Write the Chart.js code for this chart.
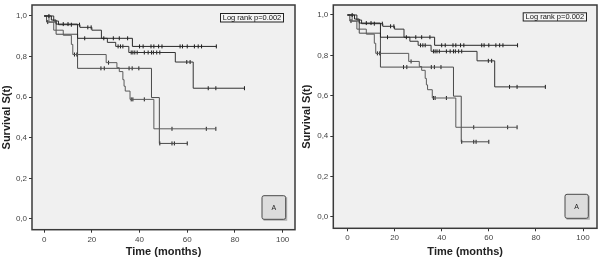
<!DOCTYPE html>
<html>
<head>
<meta charset="utf-8">
<script src="https://cdn.jsdelivr.net/npm/chart.js@4.4.1/dist/chart.umd.min.js"></script>
<style>
  body { margin: 0; background: #fff; }
  canvas { position: absolute; top: 0; }
  #leftChart { left: 0; }
  #rightChart { left: 300px; }
</style>
</head>
<body>
<canvas id="leftChart" width="300" height="259"></canvas>
<canvas id="rightChart" width="302" height="259"></canvas>
<script>
// Tick labels
var xTicks = [0, 20, 40, 60, 80, 100];
var yTicks = [0, 0.2, 0.4, 0.6, 0.8, 1.0];

// Group 1 (flat top curve) - event times and survival after each step
var g1Times = [0, 3, 5, 14, 37, 72.2];
var g1Surv  = [1, 0.98, 0.96, 0.89, 0.85, 0.85];
var g1Cens  = [8, 10, 17, 25, 29, 31.5, 35, 40, 41.5, 44.8, 46, 48, 49.4, 57, 58, 60, 63, 64.6, 66, 72.2];

// Group 2 (ends at 0.64)
var g2Times = [0, 4, 6, 15, 20, 24, 26.5, 30, 35.5, 55, 62.5, 84];
var g2Surv  = [1, 0.975, 0.957, 0.944, 0.93, 0.89, 0.87, 0.85, 0.82, 0.773, 0.644, 0.644];
var g2Cens  = [2, 11.4, 14.8, 18.3, 19.7, 31, 32, 33, 36.5, 37.2, 38, 39, 42, 43.6, 45, 45.8, 47.2, 48.5, 59.8, 61.2, 68.8, 72, 84];

// Group 3 (ends at 0.44)
var g3Times = [0, 2, 4, 8, 11.4, 12, 26, 30.5, 31.5, 33, 33.5, 34, 36, 46, 72];
var g3Surv  = [1, 0.97, 0.93, 0.905, 0.86, 0.81, 0.77, 0.745, 0.726, 0.686, 0.654, 0.63, 0.589, 0.444, 0.444];
var g3Cens  = [12.7, 13.7, 27, 36.5, 37.2, 42, 53.6, 68, 72];

// Group 4 (ends at 0.37)
var g4Times = [0, 1, 5, 14, 45, 48.3, 60];
var g4Surv  = [1, 0.97, 0.91, 0.742, 0.598, 0.372, 0.372];
var g4Cens  = [1.5, 23.8, 25.2, 35.6, 36.9, 39.7, 48.5, 53.6, 54.6, 60];

var xTitle = 'Time (months)';
var yTitle = 'Survival S(t)';
var logRankText = 'Log rank p=0.002';
var panelLabel = 'A';

// Panel geometry (pixels inside each canvas)
var panels = [
  { id: 'leftChart', w: 300, L: 32, R: 297.5, T: 0.5, B: 229.7, x0: 44.3, x100: 285, y0: 218.7, y1: 11.7,
    logBox: [220, 13, 63, 8.5], aBox: [262, 195.7, 23.7, 23.6] },
  { id: 'rightChart', w: 302, L: 33.3, R: 301.5, T: 0.5, B: 228.3, x0: 47.7, x100: 287.3, y0: 216.7, y1: 10.7,
    logBox: [222.7, 12.3, 63.3, 8.2], aBox: [265, 194.3, 23.3, 24] }
];

function toPoints(times, surv) {
  return times.map(function (t, i) { return { x: t, y: surv[i] }; });
}
function survAt(times, surv, t) {
  var s = surv[0];
  for (var i = 0; i < times.length; i++) { if (times[i] <= t) s = surv[i]; }
  return s;
}
function censPoints(times, surv, cens) {
  return cens.map(function (t) { return { x: t, y: survAt(times, surv, t) }; });
}

var groups = [
  { t: g1Times, s: g1Surv, c: g1Cens, color: '#262626' },
  { t: g2Times, s: g2Surv, c: g2Cens, color: '#333333' },
  { t: g3Times, s: g3Surv, c: g3Cens, color: '#5a5a5a' },
  { t: g4Times, s: g4Surv, c: g4Cens, color: '#4a4a4a' }
];

function buildDatasets() {
  var ds = [];
  groups.forEach(function (g) {
    ds.push({
      data: toPoints(g.t, g.s),
      borderColor: g.color,
      borderWidth: 1,
      stepped: true,
      pointRadius: 0,
      fill: false
    });
    ds.push({
      data: censPoints(g.t, g.s, g.c),
      showLine: false,
      pointStyle: 'line',
      pointRotation: 90,
      pointRadius: 2,
      pointBorderWidth: 1,
      pointBorderColor: '#1a1a1a',
      pointBackgroundColor: '#1a1a1a'
    });
  });
  return ds;
}

var framePlugin = {
  id: 'frame',
  beforeDraw: function (chart) {
    var a = chart.chartArea, c = chart.ctx;
    c.save();
    c.fillStyle = '#f0f0f0';
    c.fillRect(a.left, a.top, a.right - a.left, a.bottom - a.top);
    c.restore();
  },
  afterDraw: function (chart) {
    var a = chart.chartArea, c = chart.ctx, p = chart.options.plugins.frame.panel;
    c.save();
    c.strokeStyle = '#3a3a3a';
    c.lineWidth = 1.5;
    c.strokeRect(a.left, a.top, a.right - a.left, a.bottom - a.top);

    // log rank box
    var b = p.logBox;
    c.fillStyle = '#f6f6f6';
    c.fillRect(b[0], b[1], b[2], b[3]);
    c.strokeStyle = '#222';
    c.lineWidth = 1;
    c.strokeRect(b[0] + 0.5, b[1] + 0.5, b[2], b[3]);
    c.fillStyle = '#111';
    c.font = '7.5px "Liberation Sans"';
    c.textAlign = 'center';
    c.textBaseline = 'middle';
    c.fillText(logRankText, b[0] + b[2] / 2 + 0.5, b[1] + b[3] / 2 + 1);

    // panel label box
    var q = p.aBox;
    c.fillStyle = 'rgba(0,0,0,0.25)';
    c.fillRect(q[0] + 1.5, q[1] + 1.5, q[2], q[3]);
    c.fillStyle = '#dcdcdc';
    c.strokeStyle = '#4a4a4a';
    c.beginPath();
    c.roundRect(q[0], q[1], q[2], q[3], 2);
    c.fill();
    c.stroke();
    c.fillStyle = '#222';
    c.font = '7px "Liberation Sans"';
    c.fillText(panelLabel, q[0] + q[2] / 2, q[1] + q[3] / 2 + 0.5);
    c.restore();
  }
};

panels.forEach(function (p) {
  var kx = (p.x100 - p.x0) / 100;
  var ky = p.y0 - p.y1;
  var ctx = document.getElementById(p.id).getContext('2d');
  new Chart(ctx, {
    type: 'line',
    data: { datasets: buildDatasets() },
    options: {
      responsive: false,
      animation: false,
      events: [],
      layout: { padding: { left: 0, top: p.T, right: p.w - p.R, bottom: 0 } },
      plugins: {
        legend: { display: false },
        tooltip: { enabled: false },
        frame: { panel: p }
      },
      scales: {
        x: {
          type: 'linear',
          min: (p.L - p.x0) / kx,
          max: (p.R - p.x0) / kx,
          afterBuildTicks: function (s) { s.ticks = xTicks.map(function (v) { return { value: v }; }); },
          afterFit: function (s) { s.height = 259 - p.B; s.paddingLeft = 0; s.paddingRight = 0; },
          grid: { drawOnChartArea: false, drawTicks: true, tickLength: 3, color: '#333' },
          border: { display: false },
          ticks: { padding: 2, color: '#444', font: { family: 'Liberation Sans', size: 8 }, maxRotation: 0 },
          title: { display: true, text: xTitle, color: '#222', padding: { top: 0, bottom: 0 },
                   font: { family: 'Liberation Sans', size: 11, weight: 'bold' } }
        },
        y: {
          type: 'linear',
          min: (p.y0 - p.B) / ky,
          max: (p.y0 - p.T) / ky,
          afterBuildTicks: function (s) { s.ticks = yTicks.map(function (v) { return { value: v }; }); },
          afterFit: function (s) { s.width = p.L; s.paddingTop = 0; s.paddingBottom = 0; },
          grid: { drawOnChartArea: false, drawTicks: true, tickLength: 3, color: '#333' },
          border: { display: false },
          ticks: { padding: 2, color: '#444', font: { family: 'Liberation Sans', size: 8 },
                   callback: function (v) { return v.toFixed(1).replace('.', ','); } },
          title: { display: true, text: yTitle, color: '#222', padding: { top: 0, bottom: 0 },
                   font: { family: 'Liberation Sans', size: 11, weight: 'bold' } }
        }
      }
    },
    plugins: [framePlugin]
  });
});
</script>
</body>
</html>
